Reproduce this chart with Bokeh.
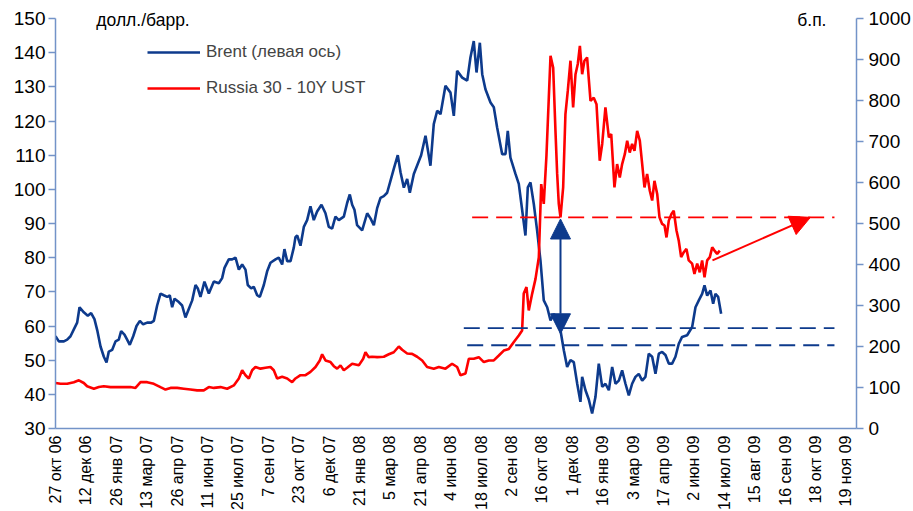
import math
from bokeh.plotting import figure
from bokeh.models import (Range1d, LinearAxis, FixedTicker, Arrow, NormalHead,
                          Label, Legend, LegendItem)
from bokeh.embed import file_html
from bokeh.resources import INLINE

# ---------------- data (x = trading-day index from 27 Oct 2006) ----------------
tick_labels = ["27 окт 06", "12 дек 06", "26 янв 07", "13 мар 07", "26 апр 07",
               "11 июн 07", "25 июл 07", "7 сен 07", "23 окт 07", "6 дек 07",
               "21 янв 08", "5 мар 08", "21 апр 08", "4 июн 08", "18 июл 08",
               "2 сен 08", "16 окт 08", "1 дек 08", "16 янв 09", "3 мар 09",
               "17 апр 09", "2 июн 09", "14 июл 09", "15 авг 09", "16 сен 09",
               "18 окт 09", "19 ноя 09"]
tick_step = 32

brent_day = [0, 3.5, 8.8, 12.3, 15.8, 19.3, 22.8, 25.3, 29.8, 34, 37.5, 41, 43.9, 47.4,
             50.9, 53.7, 56.1, 59.6, 63.2, 66.6, 69.1, 72.6, 75.4, 78.2, 81.8, 85.3,
             88.8, 92.3, 96.5, 100.7, 103.5, 107, 110.5, 114, 117.6, 120.3, 122.8,
             125.3, 129.8, 133.3, 136.8, 140.3, 143.9, 147.4, 149.8, 152.6, 156.8,
             161.4, 166.7, 171.9, 175.4, 177.9, 182.4, 186, 189.5, 193, 196.5, 200,
             202.4, 206, 208.7, 212.3, 215.1, 219.3, 222.8, 226.3, 231.6, 235, 238.6,
             241, 243.9, 247.4, 250.9, 252.6, 254.4, 257.9, 261.4, 264.9, 268.4,
             271.9, 275.4, 280, 284.2, 287.7, 291.2, 294.7, 298.2, 303.5, 307, 309.8,
             312.3, 314.7, 317.5, 322.8, 328.1, 331.6, 335.1, 338.6, 342.1, 345.6,
             349.1, 352.6, 356.1, 360.3, 363.2, 366.7, 370.2, 373, 377.2, 380.7,
             384.9, 389.5, 394.7, 398.2, 401.8, 405.3, 410.5, 415.8, 419.3, 422.8,
             428.1, 433.4, 436.8, 440.3, 443.2, 446.7, 449.2, 452.6, 457.9, 461.4,
             464.9, 470.2, 473.7, 476.1, 478.9, 484.2, 487.7, 491.3, 494.7, 497.2,
             500, 503.5, 507, 510.5, 514, 517.6, 521.1, 524.6, 528.1, 531.6, 535.1,
             538.6, 542.1, 545.6, 549.2, 552.6, 554.4, 557.9, 561.4, 564.9, 568.4,
             571.9, 575.5, 578.9, 582.5, 586, 589.5, 593, 596.5, 600, 603.5, 607,
             610.5, 614, 617.6, 621, 624.5, 628.1, 631.6, 635.1, 638.6, 642.1, 645.6,
             649.1, 652.6, 656.1, 659.6, 664.9, 670.2, 673.7, 677.2, 680.7, 683.2,
             686, 689.5, 692.3, 694.7, 697.6, 700.7]
brent_usd = [57, 55.5, 55.5, 56, 57, 59, 61, 65.5, 64, 63, 63.8, 62, 58.8, 54,
             51, 49.3, 52.5, 53, 55.5, 56, 58.5, 57.5, 56, 54.5, 57, 60,
             61.5, 60.5, 61, 61, 61.5, 66, 69.5, 69, 68.5, 69, 65.5,
             68, 67, 66, 62.5, 65, 67.5, 72, 71, 68.5, 73,
             69.5, 73, 72.5, 74, 77, 79.5, 79.5, 80, 76.5, 78, 76.5,
             72, 71, 71.5, 69, 68.5, 72, 76, 78.5, 79.5, 80, 78,
             82.5, 79, 79, 83, 86, 86.5, 83.5, 89, 91, 95,
             91, 93.5, 95.5, 93, 89, 88.5, 92, 91, 92, 96, 98.5,
             95.5, 94, 89.5, 88, 93, 91.5, 89.5, 94.5, 97.5, 98,
             99, 102.5, 106, 110, 105, 100.5, 103, 99, 104.5, 107,
             110, 115.7, 106.9, 119.1, 123, 122, 130.3, 128.3, 121.5, 134.7,
             132.7, 131.8, 138.6, 143.4, 134.2, 142.9, 133.7, 129.3, 125.4, 124,
             118.1, 110.3, 110.3, 117.1, 109.3, 104.5, 101.6, 93.8, 86.5, 100.6,
             102, 95.7, 87.9, 79.2, 67.5, 65.5, 61.6, 63.6, 60.7, 58.7, 52.9,
             48, 50, 49.4, 43.1, 37.8, 45.1, 41.2, 38.5, 34.4, 39.2,
             49, 42.2, 43.1, 41.2, 48, 43.1, 44, 47, 43.1, 39.7, 43.1,
             45.1, 46, 44, 45.1, 51.9, 51, 46, 51.9, 52.4, 51.5, 49,
             49, 51, 54.8, 56.8, 57.3, 59.7, 65.5, 67.5, 69.4, 71.9,
             68.9, 70.4, 66.5, 69.4, 68.5, 63.6]

spread_day = [0, 5.3, 12.3, 19.3, 24.6, 29.8, 33.3, 40.4, 45.6, 50.9, 57.9, 64.9, 71.9,
              78.9, 84.2, 89.5, 96.5, 103.5, 110.5, 115.8, 121.1, 128.1, 135.1, 142.1,
              149.1, 156.1, 161.4, 166.7, 173.7, 180.7, 187.7, 193, 196.5, 200, 203.5,
              207, 210.5, 215.8, 221, 226.3, 229.8, 233.3, 238.6, 243.9, 249.1, 252.6,
              257.9, 263.2, 268.4, 273.7, 278.2, 280.7, 284.2, 289.5, 293, 296.5, 300,
              303.5, 307, 312.3, 319.3, 323.9, 326.3, 329.8, 333.3, 338.6, 345.6, 350.9,
              356.1, 361.4, 364.9, 370.2, 375.4, 380.7, 386, 391.2, 398.2, 403.5, 410.5,
              417.5, 422.8, 426.3, 431.6, 435.1, 440.3, 445.6, 450.9, 456.1, 461.4,
              466.7, 471.9, 477.2, 482.5, 487.7, 491.2, 492.9, 495.8, 498.2, 501.8,
              505.3, 508.8, 511.3, 514, 516.8, 519.3, 521.1, 523.9, 526.3, 528.1, 529.8,
              531.6, 534.4, 536.8, 539.3, 542.1, 544.9, 547.4, 549.8, 552, 554.4, 556.8,
              559.6, 563.2, 566.6, 569.5, 572.9, 575.5, 578.9, 582.5, 585, 588.4, 591.2,
              594, 596.5, 599.3, 601.8, 604.5, 607, 609.5, 612.3, 615.1, 617.6, 620,
              622.8, 625.6, 628.1, 630.5, 633.4, 635.8, 638.6, 641.1, 643.2, 645.6,
              648.4, 650.8, 653.7, 656.1, 658.6, 661.4, 664.2, 666.6, 670.2, 672.6,
              675.5, 678.2, 680.7, 683.2, 686, 688.8, 691.3, 693.7, 696.5, 699.3]
spread_bp = [111, 109, 109, 113, 117.6, 111, 103, 97, 101, 103, 101, 101, 101,
             101, 99, 113, 113, 109, 101, 95, 99, 99, 97, 95,
             93, 93, 101, 99, 101, 97, 105, 122, 142, 130, 122,
             142, 150, 146, 148, 150, 142, 122, 126, 122, 113, 122,
             130, 130, 138, 150, 166, 181, 166, 162, 152, 146, 154,
             142, 148, 158, 154, 170, 186, 174, 175, 174, 175, 181,
             186, 200, 192, 183, 182, 175, 166, 150, 146, 150, 146,
             158, 150, 130, 134, 170, 170, 174, 162, 166, 166,
             178, 190, 194, 211, 227, 239, 329, 345, 288, 329,
             365, 418, 596, 548, 665, 807, 909, 880, 726, 621, 548,
             515, 588, 767, 824, 897, 783, 864, 889, 933, 864, 897,
             905, 799, 807, 791, 653, 694, 783, 710, 718, 588, 645,
             612, 645, 669, 702, 673, 694, 677, 726, 702, 645, 588,
             621, 580, 556, 604, 572, 515, 499, 495, 466, 507,
             523, 531, 483, 458, 418, 430, 438, 410, 402, 377,
             402, 381, 410, 369, 410, 418, 442, 434, 426, 434]

# axis spans
left_min, left_max = 30, 150
right_min, right_max = 0, 1000

# reference levels / annotations (right axis, b.p.)
red_level = 515
blue_levels = [245, 203]
dash_start_red, dash_start_blue = [438.6], [429.8, 433.4]
dash_end = 820
varrow_day, varrow_low, varrow_high = 531.6, 231, 511
rarrow_day0, rarrow_val0, rarrow_day1, rarrow_val1 = 691.6, 410, 794.7, 515

BLUE = "#0D3A8C"
RED = "#FF0000"
AXIS = "#7393C8"
FONT = "Liberation Sans"

# frame: 410 px for the axis span plus headroom for unit labels
span_px, head_px = 410, 18
left_top = left_max + head_px * (left_max - left_min) / span_px
right_top = right_max + head_px * (right_max - right_min) / span_px

p = figure(frame_width=801, frame_height=span_px + head_px, output_backend="svg",
           toolbar_location=None,
           x_range=Range1d(0, 843.2), y_range=Range1d(left_min, left_top),
           min_border_left=55, min_border_right=10, min_border_top=0, min_border_bottom=10)
p.extra_y_ranges = {"right": Range1d(right_min, right_top)}
p.outline_line_color = None
p.xgrid.visible = False
p.ygrid.visible = False
p.background_fill_color = "white"

# axes
p.xaxis.ticker = FixedTicker(ticks=[i * tick_step for i in range(len(tick_labels))])
p.xaxis.major_label_overrides = {i * tick_step: t for i, t in enumerate(tick_labels)}
p.xaxis.major_label_orientation = math.pi / 2
p.xaxis.major_tick_out = 0
p.xaxis.major_tick_in = 0
p.xaxis.minor_tick_out = 0
p.xaxis.minor_tick_in = 0
p.xaxis.major_label_standoff = 7
p.xaxis.major_label_text_font = FONT
p.xaxis.major_label_text_font_size = "16px"
p.xaxis.major_label_text_color = "black"
p.xaxis.axis_line_color = AXIS
p.xaxis.axis_line_width = 1.5

p.yaxis.ticker = FixedTicker(ticks=list(range(left_min, left_max + 1, 10)))
p.yaxis.bounds = (left_min, left_max)
p.yaxis.major_tick_out = 7
p.yaxis.major_tick_in = 0
p.yaxis.minor_tick_out = 0
p.yaxis.minor_tick_in = 0
p.yaxis.major_label_standoff = 3
p.yaxis.major_label_text_font = FONT
p.yaxis.major_label_text_font_size = "19px"
p.yaxis.major_label_text_color = "black"
p.yaxis.axis_line_color = AXIS
p.yaxis.major_tick_line_color = AXIS
p.yaxis.axis_line_width = 1.5
p.yaxis.major_tick_line_width = 1.5

ra = LinearAxis(y_range_name="right",
                ticker=FixedTicker(ticks=list(range(right_min, right_max + 1, 100))),
                bounds=(right_min, right_max),
                major_tick_out=7, major_tick_in=0, minor_tick_out=0, minor_tick_in=0,
                major_label_standoff=5, major_label_text_font=FONT,
                major_label_text_font_size="19px", major_label_text_color="black",
                axis_line_color=AXIS, major_tick_line_color=AXIS,
                axis_line_width=1.5, major_tick_line_width=1.5)
p.add_layout(ra, "right")

# series
r_brent = p.line(brent_day, brent_usd, line_color=BLUE, line_width=2.6)
r_spread = p.line(spread_day, spread_bp, line_color=RED, line_width=2.6, y_range_name="right")

# dashed levels
p.line([dash_start_red[0], dash_end], [red_level, red_level], line_color=RED,
       line_width=1.8, line_dash="16 8", y_range_name="right")
for lv, s in zip(blue_levels, dash_start_blue):
    p.line([s, dash_end], [lv, lv], line_color=BLUE, line_width=1.8,
           line_dash="16 8", y_range_name="right")

# arrows
p.add_layout(Arrow(x_start=varrow_day, y_start=varrow_low, x_end=varrow_day, y_end=varrow_high,
                   y_range_name="right", line_color=BLUE, line_width=2,
                   start=NormalHead(size=20, fill_color=BLUE, line_color=BLUE),
                   end=NormalHead(size=20, fill_color=BLUE, line_color=BLUE)))
p.add_layout(Arrow(x_start=rarrow_day0, y_start=rarrow_val0, x_end=rarrow_day1, y_end=rarrow_val1,
                   y_range_name="right", line_color=RED, line_width=2,
                   end=NormalHead(size=20, fill_color=RED, line_color=RED)))

# unit labels
p.add_layout(Label(x=43, y=149.5, text="долл./барр.", text_font=FONT, text_font_size="17.5px",
                   text_baseline="middle", text_align="left", text_color="black"))
p.add_layout(Label(x=811.6, y=149.5, text="б.п.", text_font=FONT, text_font_size="17.5px",
                   text_baseline="middle", text_align="right", text_color="black"))

legend = Legend(items=[LegendItem(label="Brent (левая ось)", renderers=[r_brent]),
                       LegendItem(label="Russia 30 - 10Y UST", renderers=[r_spread])],
                location=(92, 330), orientation="vertical",
                glyph_width=53, glyph_height=20, label_height=20, spacing=16,
                padding=0, margin=0, label_standoff=6,
                label_text_font=FONT, label_text_font_size="17px",
                border_line_color=None, background_fill_alpha=0)
p.add_layout(legend, "center")

open("out.html", "w").write(file_html(p, INLINE))
